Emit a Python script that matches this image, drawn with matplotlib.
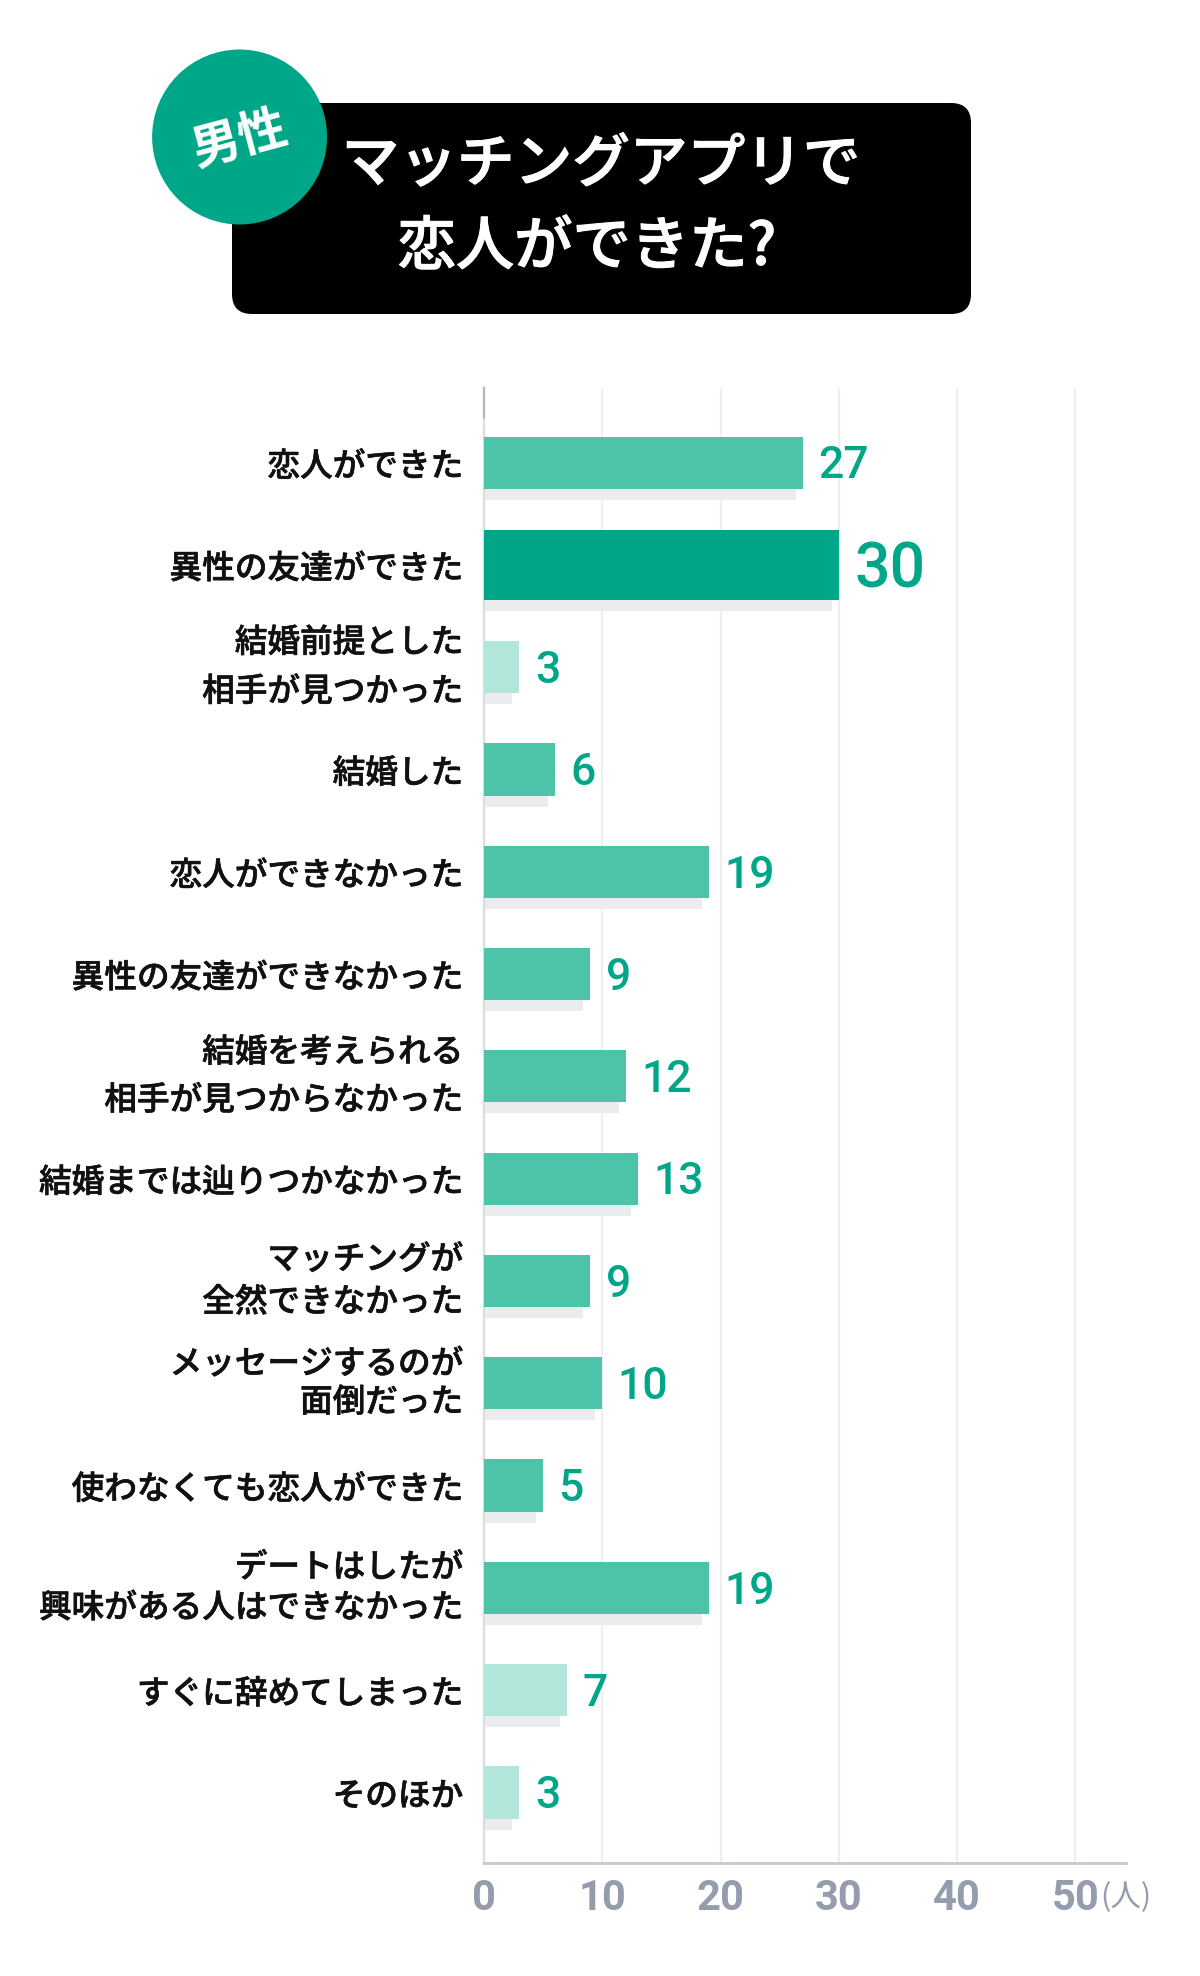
import matplotlib
matplotlib.use("Agg")
import matplotlib.pyplot as plt
import matplotlib.patheffects as pe
from matplotlib.patches import FancyBboxPatch, Circle
from matplotlib.lines import Line2D

plt.rcParams['font.family'] = ['Noto Sans CJK JP', 'DejaVu Sans']

# ---- data ----
categories = [
    "恋人ができた",
    "異性の友達ができた",
    "結婚前提とした\n相手が見つかった",
    "結婚した",
    "恋人ができなかった",
    "異性の友達ができなかった",
    "結婚を考えられる\n相手が見つからなかった",
    "結婚までは辿りつかなかった",
    "マッチングが\n全然できなかった",
    "メッセージするのが\n面倒だった",
    "使わなくても恋人ができた",
    "デートはしたが\n興味がある人はできなかった",
    "すぐに辞めてしまった",
    "そのほか",
]
values = [27, 30, 3, 6, 19, 9, 12, 13, 9, 10, 5, 19, 7, 3]
emphasis = ["mid", "top", "low", "mid", "mid", "mid", "mid", "mid", "mid", "mid", "mid", "mid", "low", "low"]
x_ticks = [0, 10, 20, 30, 40, 50]
x_unit = "(人)"
badge_text = "男性"
title_lines = ["マッチングアプリで", "恋人ができた?"]

# ---- style ----
GREEN = "#00A688"
colors = {"top": "#00A688", "mid": "#4DC4AA", "low": "#B3E6DA"}
heights = {"top": 0.69, "mid": 0.51, "low": 0.51}
SHADOW = "#EBECEE"
TICK_GRAY = "#949CAD"
LABEL = "#111111"
label_linespacing = [1.5, 1.5, 1.52, 1.5, 1.5, 1.5, 1.48, 1.5, 1.28, 1.12, 1.5, 1.2, 1.5, 1.5]

W, H = 1200, 1976
fig = plt.figure(figsize=(W / 100, H / 100), dpi=100)

# background / title overlay in pixel coordinates
bg = fig.add_axes([0, 0, 1, 1])
bg.set_xlim(0, W)
bg.set_ylim(H, 0)
bg.axis("off")
box = FancyBboxPatch((232, 103), 739, 211, boxstyle="round,pad=0,rounding_size=20",
                     facecolor="black", edgecolor="none")
bg.add_patch(box)
bg.add_patch(Circle((239.6, 137), 87.5, facecolor=GREEN, edgecolor="none"))
bg.text(240, 139, badge_text, color="white", fontsize=35, fontweight="bold",
        rotation=15, ha="center", va="center")
title_fx = [pe.withStroke(linewidth=0.8, foreground="white")]
bg.text(601, 165, title_lines[0], color="white", fontsize=41.5, fontweight="medium",
        ha="center", va="center", path_effects=title_fx)
bg.text(587, 248, title_lines[1], color="white", fontsize=42, fontweight="medium",
        ha="center", va="center", path_effects=title_fx)

# chart axes
x0, x1 = 484, 1126
ytop, ybot = 388, 1863
ax = fig.add_axes([x0 / W, 1 - ybot / H, (x1 - x0) / W, (ybot - ytop) / H])
ax.patch.set_alpha(0)
ax.set_xlim(0, 54.27)
n = len(categories)
ax.set_ylim(n - 1 + 0.69, -0.73)

ypos = list(range(n))
px_per_unit = (x1 - x0) / 54.27
shadow_dx = 7 / px_per_unit
shadow_dy = 11 / 102.3

for y, v, e in zip(ypos, values, emphasis):
    h = heights[e]
    ax.barh(y + shadow_dy, max(v - shadow_dx, 0), height=h, color=SHADOW, zorder=2, linewidth=0)
    ax.barh(y, v, height=h, color=colors[e], zorder=3, linewidth=0)
    fs = 45 if e == "top" else 32
    ax.annotate(str(v), xy=(v, y), xytext=(11, -0.711 * fs / 2), textcoords="offset points",
                ha="left", va="baseline", fontsize=fs, fontweight="medium", color=GREEN,
                family=["Roboto", "DejaVu Sans"], zorder=4)

ax.set_yticks(ypos)
ax.set_yticklabels(categories, fontsize=23.5, fontweight="medium", color=LABEL)
label_fx = [pe.withStroke(linewidth=0.45, foreground=LABEL)]
for lab, ls, txt in zip(ax.get_yticklabels(), label_linespacing, categories):
    lab.set_path_effects(label_fx)
    lab.set_linespacing(ls)
    if "\n" in txt:
        lab.set_verticalalignment("center")
ax.tick_params(axis="y", length=0, pad=15)

ax.set_xticks(x_ticks)
ax.set_xticklabels([str(t) for t in x_ticks], fontsize=30, fontweight="bold", color=TICK_GRAY,
                   family=["Roboto", "DejaVu Sans"])
ax.tick_params(axis="x", length=0, pad=11)
ax.grid(axis="x", color="#EEEFF1", linewidth=1.6, zorder=0)
ax.set_axisbelow(True)

for s in ["top", "right"]:
    ax.spines[s].set_visible(False)
ax.spines["left"].set_color("#DCDCDC")
ax.spines["left"].set_linewidth(1.6)
ax.spines["bottom"].set_color("#C5C8CC")
ax.spines["bottom"].set_linewidth(2)
ax.add_line(Line2D([0, 0], [1, 1 - 29 / (ybot - ytop)], transform=ax.transAxes,
                   color="#B8B8B8", linewidth=1.6, clip_on=False, zorder=5))

ax.annotate(x_unit, xy=(50, 0), xycoords=("data", "axes fraction"), xytext=(18, -24.5),
            textcoords="offset points", ha="left", va="center", fontsize=22,
            color=TICK_GRAY)

fig.savefig("out.png", dpi=100)
